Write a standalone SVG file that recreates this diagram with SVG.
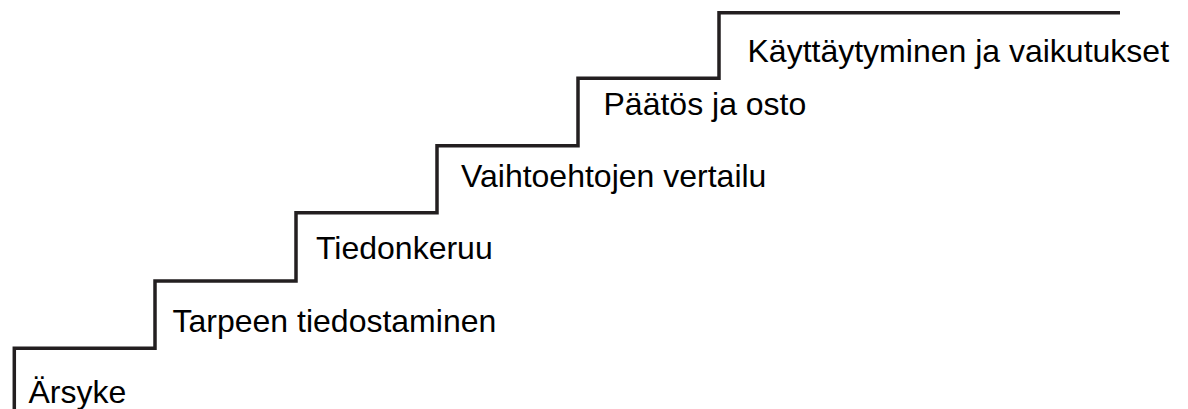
<svg xmlns="http://www.w3.org/2000/svg" width="1188" height="409" viewBox="0 0 1188 409">
<style>
.step{fill:none;stroke:#231f20;stroke-width:3.5;stroke-linejoin:miter;stroke-linecap:butt}
.lbl{font-family:"Liberation Sans",Arial,sans-serif;font-size:32px;fill:#000}
</style>
<rect width="1188" height="409" fill="#fff"/>
<g id="connectors">
<path class="step" d="M14.3,409 V348.3 H155 V281 H296 V212.7 H437 V145.7 H578 V78.3 H719 V12.8 H1120"/>
</g>
<g id="node-arsyke"><text class="lbl" x="28.5" y="403">Ärsyke</text></g>
<g id="node-tarpeen"><text class="lbl" x="172.5" y="331.5">Tarpeen tiedostaminen</text></g>
<g id="node-tiedonkeruu"><text class="lbl" x="316" y="259">Tiedonkeruu</text></g>
<g id="node-vaihtoehtojen"><text class="lbl" x="461" y="186.5">Vaihtoehtojen vertailu</text></g>
<g id="node-paatos"><text class="lbl" x="603.5" y="115">Päätös ja osto</text></g>
<g id="node-kayttaytyminen"><text class="lbl" x="747.5" y="62">Käyttäytyminen ja vaikutukset</text></g>
</svg>
